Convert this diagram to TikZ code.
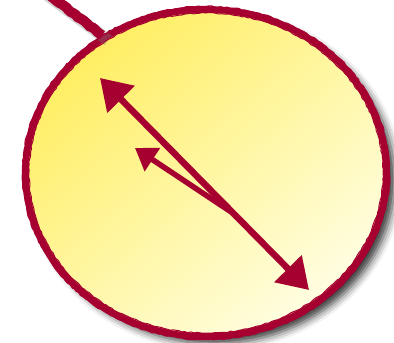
\documentclass[tikz,border=0pt]{standalone}
\usetikzlibrary{arrows.meta,shadows.blur,decorations.pathmorphing,shapes.geometric,calc}
\definecolor{inkred}{HTML}{A5002F}
\definecolor{sunA}{HTML}{FFEE62}
\definecolor{sunB}{HTML}{FFFEE2}
\begin{document}
\begin{tikzpicture}[x=1pt,y=-1pt,
  rough/.style={decorate,decoration={random steps,segment length=3pt,amplitude=0.6pt}},
  bubble/.style={ellipse, draw=inkred, line width=6.5pt, inner sep=0pt,
    minimum width=361pt, minimum height=327pt,
    top color=sunA, bottom color=sunB, shading angle=40,
    blur shadow={shadow xshift=8pt, shadow yshift=-7pt, shadow blur radius=8pt, shadow opacity=80}},
  ink/.style={draw=inkred, line width=6.5pt},
  smalltip/.style={-{Triangle[length=21pt,width=27pt]}}
]
\useasboundingbox (0,0) rectangle (394,343);
\coordinate (s) at (40,-12);
\coordinate (sh) at (46,-6);
\node[bubble] (c) at (206,173) {};
% connector with its shadow
\draw[black!50, opacity=0.35, line width=12pt] (sh) -- ($(c.127)+(6,5)$);
\draw[inkred, line width=10pt, rough] (s) -- (c.127);
% rough extra strokes on the rim
\draw[inkred, line width=1.4pt, rough] (c.center) ellipse [x radius=183.5, y radius=166.5];
\draw[inkred, line width=1pt, rough] (c.center) ellipse [x radius=177, y radius=160];
% arrows
\coordinate (p1) at (100,78);
\coordinate (p2) at (309,290);
\coordinate (m) at ($(p1)!0.64!(p2)$);
\coordinate (p3) at (135,148);
\draw[ink, {Triangle[length=30pt,width=37pt]}-{Triangle[length=30pt,width=37pt]}] (p1) -- (p2);
\draw[ink, smalltip, line width=5.5pt] (m) -- (p3);
\end{tikzpicture}
\end{document}
